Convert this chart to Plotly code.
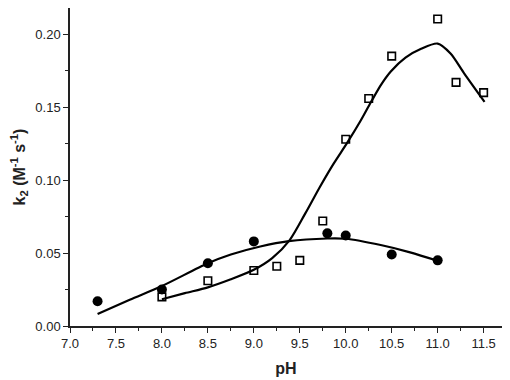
import plotly.graph_objects as go

# Measured data: filled circles
ph_circ = [7.3, 8.0, 8.5, 9.0, 9.8, 10.0, 10.5, 11.0]
k2_circ = [0.017, 0.025, 0.043, 0.058, 0.0635, 0.062, 0.049, 0.045]

# Measured data: open squares
ph_sq = [8.0, 8.5, 9.0, 9.25, 9.5, 9.75, 10.0, 10.25, 10.5, 11.0, 11.2, 11.5]
k2_sq = [0.020, 0.031, 0.038, 0.041, 0.045, 0.072, 0.128, 0.156, 0.185, 0.2105, 0.167, 0.160]

# Fitted curve (circles)
fit_c_x = [7.3, 7.65, 8.0, 8.5, 8.75, 9.07, 9.38, 9.8, 10.0, 10.38, 10.7, 11.0]
fit_c_y = [0.0082, 0.018, 0.0274, 0.043, 0.049, 0.0545, 0.0582, 0.0600, 0.0598, 0.0555, 0.0505, 0.0447]

# Fitted curve (squares)
fit_s_x = [8.0, 8.25, 8.5, 8.75, 9.0, 9.2, 9.39, 9.56, 9.72, 9.87, 10.01, 10.16, 10.27, 10.38, 10.49, 10.65, 10.82, 11.0, 11.14, 11.29, 11.51]
fit_s_y = [0.0183, 0.0225, 0.0265, 0.032, 0.0385, 0.0465, 0.0589, 0.0772, 0.0955, 0.1115, 0.125, 0.1405, 0.153, 0.165, 0.1745, 0.184, 0.190, 0.1936, 0.1868, 0.173, 0.1536]

x_ticks = [7.0, 7.5, 8.0, 8.5, 9.0, 9.5, 10.0, 10.5, 11.0, 11.5]
y_ticks = [0.00, 0.05, 0.10, 0.15, 0.20]

fig = go.Figure()
for fx, fy in ((fit_c_x, fit_c_y), (fit_s_x, fit_s_y)):
    fig.add_trace(go.Scatter(x=fx, y=fy, mode="lines",
                             line=dict(color="black", width=2.2, shape="spline", smoothing=0.8),
                             showlegend=False, hoverinfo="skip"))
fig.add_trace(go.Scatter(x=ph_circ, y=k2_circ, mode="markers",
                         marker=dict(symbol="circle", size=10, color="black"),
                         showlegend=False))
fig.add_trace(go.Scatter(x=ph_sq, y=k2_sq, mode="markers",
                         marker=dict(symbol="square-open", size=7.5, color="black",
                                     line=dict(width=1.6, color="black")),
                         showlegend=False))

FAM = "Liberation Sans, Arial, sans-serif"
axis_font = dict(family=FAM, size=13, color="#222")
fig.update_layout(
    width=502, height=372,
    margin=dict(l=62, r=8, t=0, b=54),
    paper_bgcolor="white", plot_bgcolor="white",
    font=axis_font,
)
fig.update_xaxes(
    range=[7.0, 11.7], tickvals=x_ticks, ticktext=[f"{v:.1f}" for v in x_ticks],
    showline=True, linecolor="#222", linewidth=1.5, ticks="outside", ticklen=5,
    tickwidth=1.3, tickcolor="#222", showgrid=False, zeroline=False,
    minor=dict(dtick=0.25, tick0=7.0, ticks="outside", ticklen=3, tickwidth=1.2, tickcolor="#222", showgrid=False),
    title=dict(text="<b>pH</b>", font=dict(family=FAM, size=16, color="#222"), standoff=12),
    tickfont=axis_font,
)
fig.update_yaxes(
    range=[0, 0.218], tickvals=y_ticks, ticktext=[f"{v:.2f}" for v in y_ticks],
    showline=True, linecolor="#222", linewidth=1.5, ticks="outside", ticklen=5,
    tickwidth=1.3, tickcolor="#222", showgrid=False, zeroline=False,
    minor=dict(dtick=0.025, tick0=0, ticks="outside", ticklen=3, tickwidth=1.2, tickcolor="#222", showgrid=False),
    title=dict(text="<b>k<sub>2</sub> (M<sup>-1</sup> s<sup>-1</sup>)</b>",
               font=dict(family=FAM, size=16, color="#222"), standoff=6),
    tickfont=axis_font,
)

fig.write_html("out.html")
